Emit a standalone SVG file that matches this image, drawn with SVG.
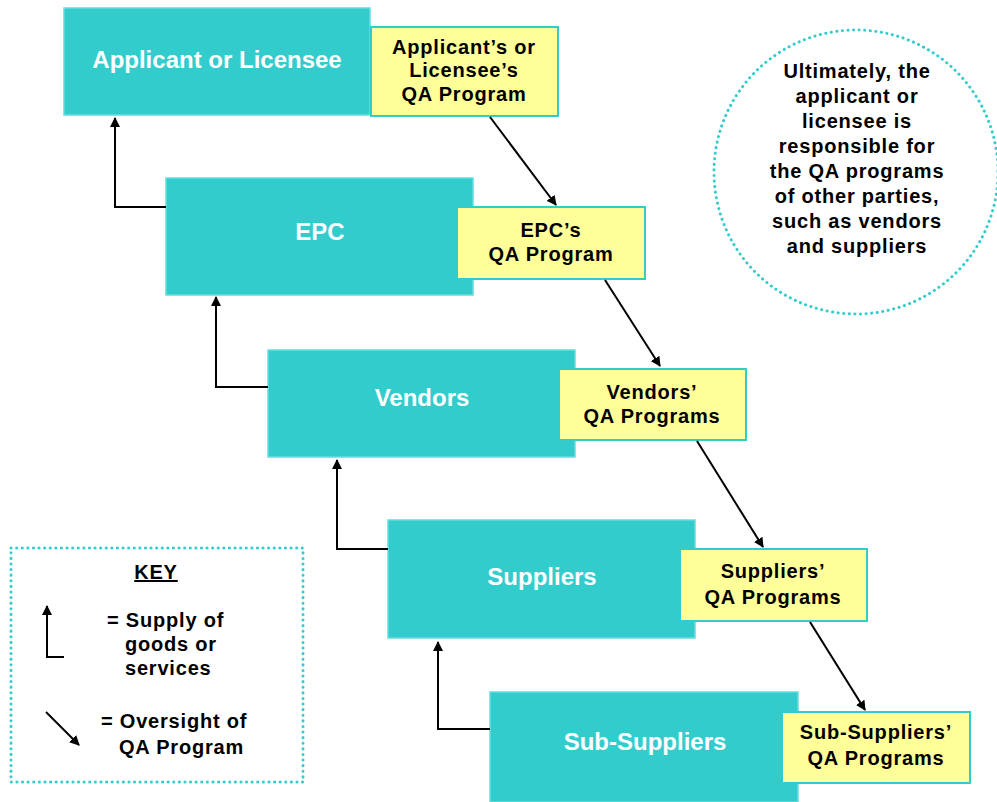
<svg xmlns="http://www.w3.org/2000/svg" width="997" height="802" viewBox="0 0 997 802">
<defs>
<marker id="ah" viewBox="0 0 10 10" refX="9" refY="5" markerWidth="5" markerHeight="5" orient="auto-start-reverse">
<path d="M0,0 L10,5 L0,10 z" fill="#000"/>
</marker>
<style>
.teal{fill:#33CCCC;stroke:#66DDDD;stroke-width:1.5}
.yel{fill:#FFFF99;stroke:#33CCCC;stroke-width:2}
.tl{font-family:"Liberation Sans",Arial,sans-serif;font-weight:bold;font-size:24px;fill:#fff;text-anchor:middle}
.yl{font-family:"Liberation Sans",Arial,sans-serif;font-weight:bold;font-size:20px;letter-spacing:0.8px;fill:#000;text-anchor:middle}
.kl{font-family:"Liberation Sans",Arial,sans-serif;font-weight:bold;font-size:20px;letter-spacing:0.8px;fill:#000}
.conn{fill:none;stroke:#000;stroke-width:2;marker-end:url(#ah)}
.dot{fill:none;stroke:#33CCCC;stroke-width:3;stroke-dasharray:0.1 5.5;stroke-linecap:round}
</style>
</defs>
<rect width="997" height="802" fill="#fff"/>
<g id="applicant">
<rect class="teal" x="64" y="8" width="306" height="107"/>
<text class="tl" x="217" y="68">Applicant or Licensee</text>
</g>
<g id="applicant-qa">
<rect class="yel" x="371" y="27" width="187" height="89"/>
<text class="yl" x="464" y="54">Applicant’s or</text>
<text class="yl" x="464" y="77">Licensee’s</text>
<text class="yl" x="464" y="101">QA Program</text>
</g>
<g id="epc">
<rect class="teal" x="166" y="178" width="307" height="117"/>
<text class="tl" x="320" y="240">EPC</text>
</g>
<g id="epc-qa">
<rect class="yel" x="457" y="207" width="188" height="72"/>
<text class="yl" x="551" y="237">EPC’s</text>
<text class="yl" x="551" y="261">QA Program</text>
</g>
<g id="vendors">
<rect class="teal" x="268" y="350" width="307" height="107"/>
<text class="tl" x="422" y="406">Vendors</text>
</g>
<g id="vendors-qa">
<rect class="yel" x="559" y="369" width="187" height="71"/>
<text class="yl" x="652" y="399">Vendors’</text>
<text class="yl" x="652" y="423">QA Programs</text>
</g>
<g id="suppliers">
<rect class="teal" x="388" y="520" width="307" height="118"/>
<text class="tl" x="542" y="585">Suppliers</text>
</g>
<g id="suppliers-qa">
<rect class="yel" x="680" y="549" width="187" height="72"/>
<text class="yl" x="773" y="578">Suppliers’</text>
<text class="yl" x="773" y="604">QA Programs</text>
</g>
<g id="sub-suppliers">
<rect class="teal" x="490" y="692" width="308" height="110"/>
<text class="tl" x="645" y="750">Sub-Suppliers</text>
</g>
<g id="sub-suppliers-qa">
<rect class="yel" x="782" y="712" width="188" height="71"/>
<text class="yl" x="876" y="739">Sub-Suppliers’</text>
<text class="yl" x="876" y="765">QA Programs</text>
</g>
<g id="connectors">
<path class="conn" d="M166,207 H115 V118"/>
<path class="conn" d="M268,387 H216 V297"/>
<path class="conn" d="M388,549 H337 V460"/>
<path class="conn" d="M490,729 H438 V642"/>
<path class="conn" d="M490,117 L556,205"/>
<path class="conn" d="M605,280 L660,366"/>
<path class="conn" d="M697,441 L763,547"/>
<path class="conn" d="M810,622 L865,710"/>
</g>
<g id="note">
<circle class="dot" cx="856" cy="172" r="142"/>
<text class="yl" x="857" y="78">Ultimately, the</text>
<text class="yl" x="857" y="103">applicant or</text>
<text class="yl" x="857" y="128">licensee is</text>
<text class="yl" x="857" y="153">responsible for</text>
<text class="yl" x="857" y="178">the QA programs</text>
<text class="yl" x="857" y="203">of other parties,</text>
<text class="yl" x="857" y="228">such as vendors</text>
<text class="yl" x="857" y="253">and suppliers</text>
</g>
<g id="key">
<rect class="dot" x="11" y="548" width="292" height="234"/>
<text class="yl" x="156" y="579" text-decoration="underline">KEY</text>
<path class="conn" d="M64,657 H47 V606"/>
<text class="kl" x="107" y="627">= Supply of</text>
<text class="kl" x="125" y="651">goods or</text>
<text class="kl" x="125" y="675">services</text>
<path class="conn" d="M46,712 L79,745"/>
<text class="kl" x="101" y="728">= Oversight of</text>
<text class="kl" x="119" y="754">QA Program</text>
</g>
</svg>
